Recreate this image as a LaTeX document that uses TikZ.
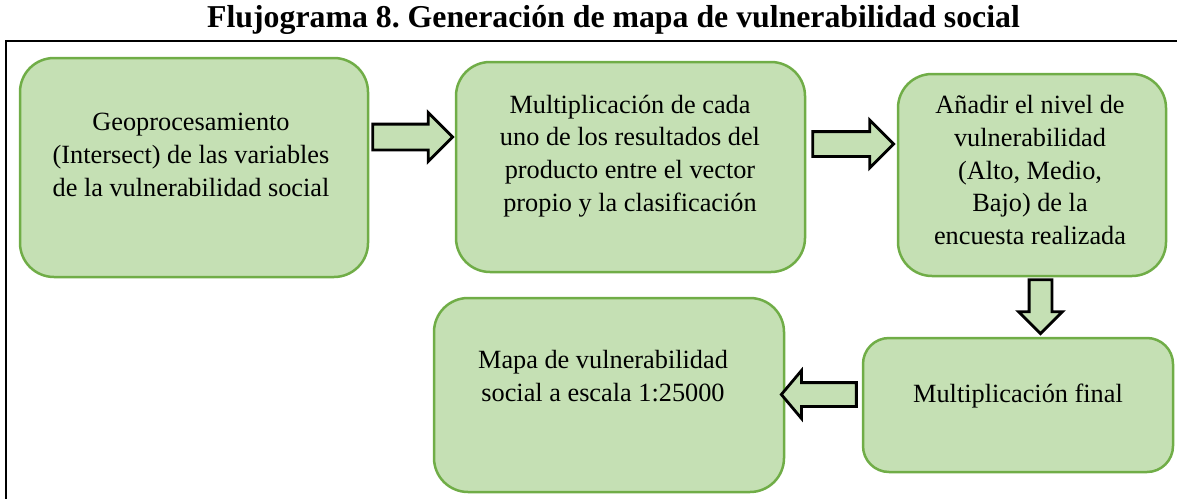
\documentclass[tikz,border=0pt]{standalone}
\usepackage{fontspec}
\setmainfont{Liberation Serif}
\usetikzlibrary{shapes.arrows}

\definecolor{verdefondo}{HTML}{C5E0B4}
\definecolor{verdeborde}{HTML}{70AD47}

\tikzset{
	caja/.style={draw=verdeborde, fill=verdefondo, line width=1.25pt, rounded corners=17pt},
	texto/.style={align=center, inner sep=0pt, font=\fontsize{13.15}{16.4}\selectfont},
	flecha/.style={single arrow, draw=black, fill=verdefondo, line width=1.4pt,
		inner xsep=0pt, inner ysep=5.5pt, single arrow head extend=5.75pt,
		single arrow tip angle=90, anchor=west}
}

\begin{document}
\begin{tikzpicture}[x=0.5pt,y=-0.5pt]
	\useasboundingbox (0,0) rectangle (1177,498);

	\draw (613.5,27) node[anchor=base, font=\fontsize{15.9}{19}\selectfont\bfseries] (titulo)
		{Flujograma 8.\ Generación de mapa de vulnerabilidad social};
	\draw[line width=1pt] (6,500) -- (6,41) -- (1177,41);

	\draw (194,167.5) node[caja, minimum width=174pt, minimum height=109.5pt] (c1){};
	\draw (630.5,167) node[caja, minimum width=174.5pt, minimum height=105pt] (c2){};
	\draw (1032,175) node[caja, minimum width=134pt, minimum height=101pt] (c3){};
	\draw (1018,405) node[caja, minimum width=155pt, minimum height=67pt, rounded corners=13pt] (c4){};
	\draw (609,395) node[caja, minimum width=175pt, minimum height=97pt] (c5){};

	\draw (191,155) node[texto] (t1){Geoprocesamiento\\(Intersect) de las variables\\de la vulnerabilidad social};
	\draw (630,156) node[texto] (t2){Multiplicación de cada\\uno de los resultados del\\producto entre el vector\\propio y la clasificación};
	\draw (1030,170) node[texto] (t3){Añadir el nivel de\\vulnerabilidad\\(Alto, Medio,\\Bajo) de la\\encuesta realizada};
	\draw (1018,396) node[texto] (t4){Multiplicación final};
	\draw (603,376) node[texto] (t5){Mapa de vulnerabilidad\\social a escala 1:25000};

	\node[flecha, minimum height=40pt, inner ysep=5.75pt] (f1) at ([xshift=1pt,yshift=15.25pt]c1.east) {};
	\node[flecha, minimum height=40.5pt] (f2) at ([xshift=2.5pt,yshift=11.5pt]c2.east) {};
	\node[flecha, rotate=-90, minimum height=27pt, inner ysep=5pt, single arrow head extend=5.25pt] (f3) at ([xshift=4.25pt,yshift=-0.5pt]c3.south) {};
	\node[flecha, rotate=180, minimum height=37.5pt, inner ysep=5.25pt, single arrow head extend=6pt, single arrow tip angle=100] (f4) at ([xshift=-2pt,yshift=5.25pt]c4.west) {};
\end{tikzpicture}
\end{document}
